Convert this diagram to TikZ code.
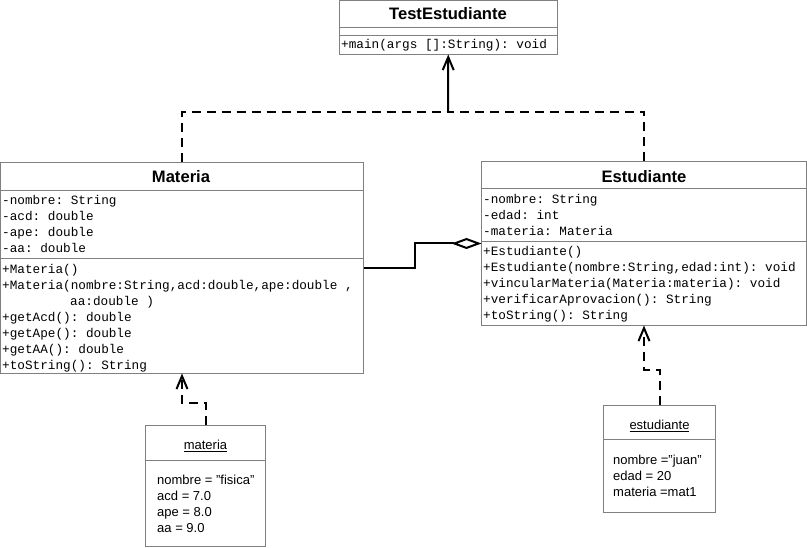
\documentclass[tikz,border=0pt]{standalone}
\usepackage{fontspec}
\setmainfont{Liberation Sans}
\setmonofont{Liberation Mono}
\usetikzlibrary{arrows.meta}
\definecolor{boxgray}{RGB}{128,128,128}
\newcommand{\dq}{\symbol{34}}
\begin{document}
\begin{tikzpicture}[x=1pt,y=-1pt,
  box/.style={draw=boxgray, line width=1pt, fill=white, inner sep=0pt, outer sep=0pt, rectangle, anchor=north west},
  sep/.style={draw=boxgray, line width=1pt},
  ttl/.style={font=\fontsize{16.6}{18}\selectfont\bfseries, inner sep=0pt, anchor=base},
  mono/.style={font=\fontsize{12.7}{16}\ttfamily, inner sep=0pt, anchor=base west},
  obj/.style={font=\fontsize{13}{16}\selectfont, inner sep=0pt, anchor=base west},
  objttl/.style={font=\fontsize{13}{16}\selectfont, inner sep=0pt, anchor=base},
  dep/.style={line width=2pt, dash pattern=on 9pt off 6pt},
  conn/.style={line width=2pt},
  headarrow/.style={-{Straight Barb[length=13pt,width=11pt]}},
  aggarrow/.style={-{Diamond[open,length=30pt,width=11pt]}}
]
\useasboundingbox (0,0) rectangle (807,548);

% TestEstudiante
\node[box, minimum width=217.5pt, minimum height=54pt] (test) at (339.5,0.5) {};
\draw[sep] (339.5,27.5) -- (557,27.5);
\draw[sep] (339.5,35.5) -- (557,35.5);
\node[ttl] (testT) at (448,19.5) {TestEstudiante};
\node[mono] (testM1) at (341,49) {+main(args []:String): void};

% Materia
\node[box, minimum width=363pt, minimum height=211pt] (mat) at (0.5,162.5) {};
\draw[sep] (0.5,190.5) -- (363.5,190.5);
\draw[sep] (0.5,258.5) -- (363.5,258.5);
\node[ttl] (matT) at (181,183) {Materia};
\node[mono] (matA1) at (2,205) {-nombre: String};
\node[mono] (matA2) at (2,221) {-acd: double};
\node[mono] (matA3) at (2,237) {-ape: double};
\node[mono] (matA4) at (2,253) {-aa: double};
\node[mono] (matM1) at (2,274) {+Materia()};
\node[mono] (matM2) at (2,290) {+Materia(nombre:String,acd:double,ape:double ,};
\node[mono] (matM3) at (70,306) {aa:double )};
\node[mono] (matM4) at (2,322) {+getAcd(): double};
\node[mono] (matM5) at (2,338) {+getApe(): double};
\node[mono] (matM6) at (2,354) {+getAA(): double};
\node[mono] (matM7) at (2,370) {+toString(): String};

% Estudiante
\node[box, minimum width=325pt, minimum height=164pt] (est) at (481.5,161.5) {};
\draw[sep] (481.5,188.5) -- (806.5,188.5);
\draw[sep] (481.5,241.5) -- (806.5,241.5);
\node[ttl] (estT) at (644,183) {Estudiante};
\node[mono] (estA1) at (483,204) {-nombre: String};
\node[mono] (estA2) at (483,220) {-edad: int};
\node[mono] (estA3) at (483,236) {-materia: Materia};
\node[mono] (estM1) at (483,256) {+Estudiante()};
\node[mono] (estM2) at (483,272) {+Estudiante(nombre:String,edad:int): void};
\node[mono] (estM3) at (483,288) {+vincularMateria(Materia:materia): void};
\node[mono] (estM4) at (483,304) {+verificarAprovacion(): String};
\node[mono] (estM5) at (483,320) {+toString(): String};

% object materia
\node[box, minimum width=120pt, minimum height=121pt] (mobj) at (145.5,425.5) {};
\draw[sep] (145.5,460.5) -- (265.5,460.5);
\node[objttl] (mobjT) at (205.5,449.5) {\underline{materia}};
\node[obj] (mobjA1) at (157,484.5) {nombre = \dq fisica\dq};
\node[obj] (mobjA2) at (157,500.5) {acd = 7.0};
\node[obj] (mobjA3) at (157,516.5) {ape = 8.0};
\node[obj] (mobjA4) at (157,532.5) {aa = 9.0};

% object estudiante
\node[box, minimum width=112pt, minimum height=107pt] (eobj) at (603.5,405.5) {};
\draw[sep] (603.5,439.5) -- (715.5,439.5);
\node[objttl] (eobjT) at (659.5,429.5) {\underline{estudiante}};
\node[obj] (eobjA1) at (613,464.5) {nombre =\dq juan\dq};
\node[obj] (eobjA2) at (613,480.5) {edad = 20};
\node[obj] (eobjA3) at (613,496.5) {materia =mat1};

% connectors
\coordinate (j) at (448,112);
\draw[dep] (mat.north) |- (j);
\draw[dep] (est.north) |- (j);
\draw[conn, headarrow] (j) -- (test.south);

\coordinate (bend) at (415,0);
\draw[conn, aggarrow] (mat.east) -- (bend |- mat.east) -- (bend |- est.west) -- (est.west);

\draw[dep, headarrow] (mobj.north) -- ++(0,-22) -| (mat.south);
\draw[dep, headarrow] (eobj.north) -- ++(0,-35) -| (est.south);
\end{tikzpicture}
\end{document}
